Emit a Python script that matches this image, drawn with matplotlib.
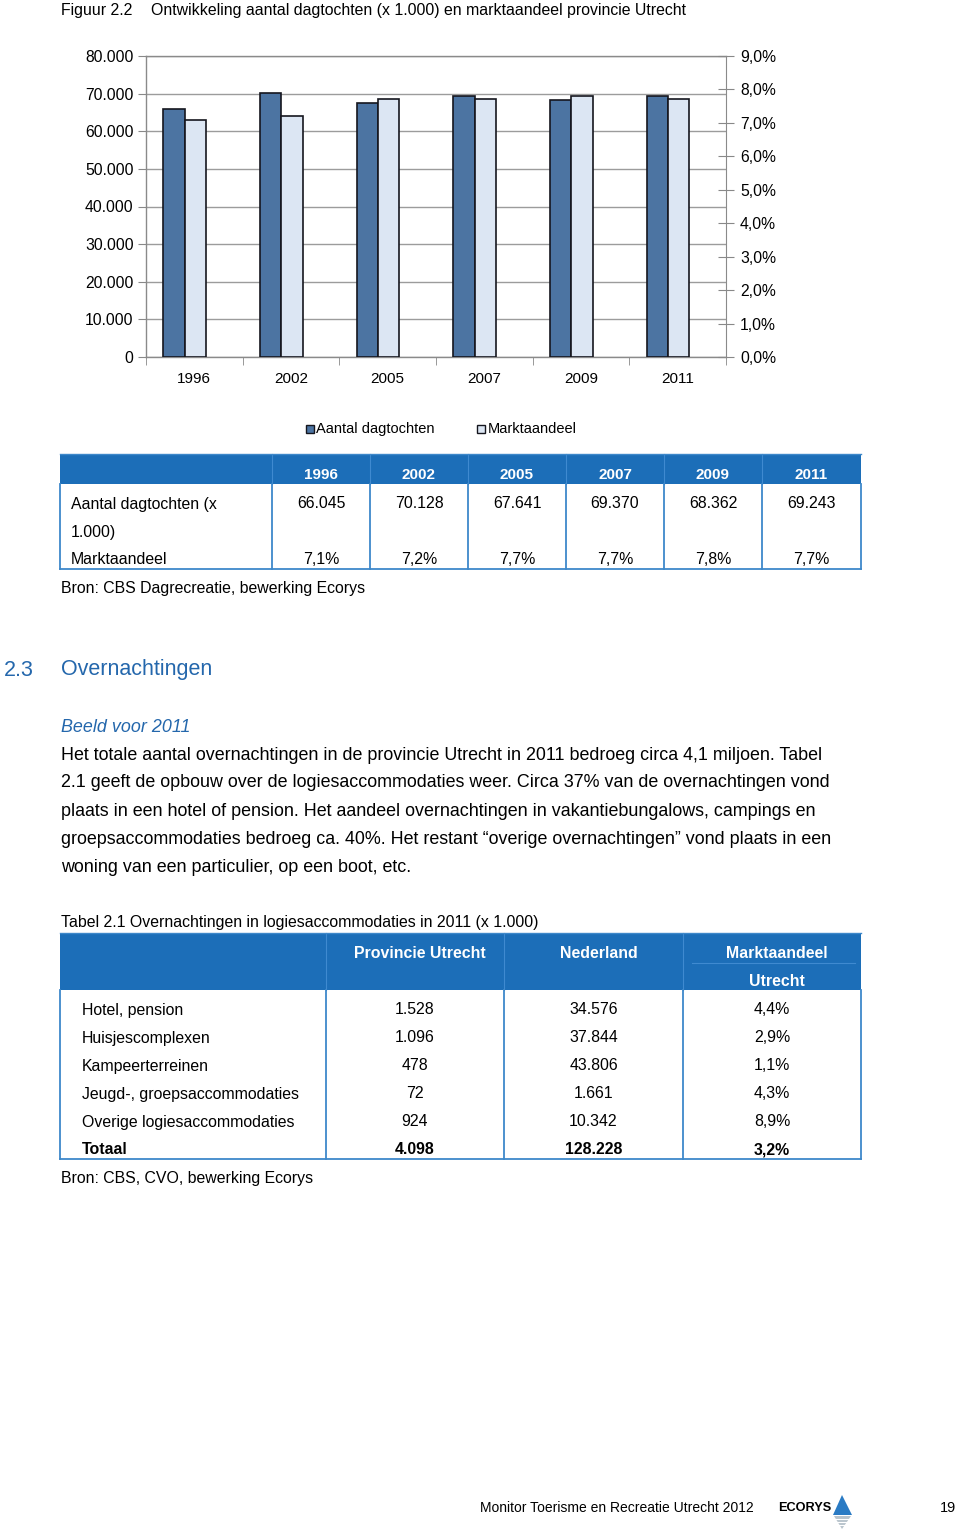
import numpy as np
import matplotlib
matplotlib.use("Agg")
import matplotlib.pyplot as plt
from matplotlib.patches import Rectangle, Polygon
from matplotlib.lines import Line2D
from matplotlib.ticker import FuncFormatter

plt.rcParams['font.family'] = ['Liberation Sans', 'DejaVu Sans']

# ---------------- data ----------------
years = ['1996', '2002', '2005', '2007', '2009', '2011']
dagtochten = [66045, 70128, 67641, 69370, 68362, 69243]      # x 1.000
marktaandeel = [7.1, 7.2, 7.7, 7.7, 7.8, 7.7]                # %

acc_types = ['Hotel, pension', 'Huisjescomplexen', 'Kampeerterreinen',
             'Jeugd-, groepsaccommodaties', 'Overige logiesaccommodaties']
prov_utrecht = [1528, 1096, 478, 72, 924]
nederland = [34576, 37844, 43806, 1661, 10342]
share_utrecht = [4.4, 2.9, 1.1, 4.3, 8.9]
total_label = 'Totaal'
total_values = [4098, 128228, 3.2]

paragraph = [
    "Het totale aantal overnachtingen in de provincie Utrecht in 2011 bedroeg circa 4,1 miljoen. Tabel",
    "2.1 geeft de opbouw over de logiesaccommodaties weer. Circa 37% van de overnachtingen vond",
    "plaats in een hotel of pension. Het aandeel overnachtingen in vakantiebungalows, campings en",
    "groepsaccommodaties bedroeg ca. 40%. Het restant \u201coverige overnachtingen\u201d vond plaats in een",
    "woning van een particulier, op een boot, etc.",
]

# ---------------- helpers ----------------
W, H = 960, 1530
fig = plt.figure(figsize=(W / 100, H / 100), dpi=100)
fig.patch.set_facecolor('white')


def fx(px):
    return px / W


def fy(py):
    return 1 - py / H


def txt(x, y, s, size=11.4, ha='left', color='black', weight='normal', style='normal'):
    fig.text(fx(x), fy(y), s, ha=ha, va='center', fontsize=size, color=color,
             fontweight=weight, fontstyle=style)


def rect(x0, y0, x1, y1, fc, ec='none', lw=0):
    fig.add_artist(Rectangle((fx(x0), fy(y1)), (x1 - x0) / W, (y1 - y0) / H,
                             transform=fig.transFigure, facecolor=fc,
                             edgecolor=ec, linewidth=lw))


def line(x0, y0, x1, y1, color, lw=1.2):
    fig.add_artist(Line2D([fx(x0), fx(x1)], [fy(y0), fy(y1)],
                          transform=fig.transFigure, color=color, linewidth=lw))


def nl_int(v):
    return f"{int(v):,}".replace(',', '.')


def nl_pct(v):
    return f"{v:.1f}%".replace('.', ',')


DARK = '#4C74A2'
LIGHT = '#DCE6F3'
EDGE = '#15161e'
BLUE_HDR = '#1C6EB8'
BLUE_LINE = '#3E88CA'
HEAD_BLUE = '#2467AC'
GRID = '#9c9c9c'

# ---------------- title ----------------
txt(61, 10, 'Figuur 2.2', size=11.4)
txt(151, 10, 'Ontwikkeling aantal dagtochten (x 1.000) en marktaandeel provincie Utrecht', size=11.4)

# ---------------- chart ----------------
ax = fig.add_axes([fx(146), fy(357), 580 / W, 301 / H])
x = np.arange(len(years))
ax.bar(x - 0.21, dagtochten, width=0.22, color=DARK, edgecolor=EDGE, linewidth=1.2, zorder=3)
ax.set_xlim(-0.5, len(years) - 0.5)
ax.set_ylim(0, 80000)
ax.set_yticks(np.arange(0, 80001, 10000))
ax.yaxis.set_major_formatter(FuncFormatter(lambda v, p: nl_int(v)))
ax.yaxis.grid(True, color=GRID, linewidth=1.0)
ax.set_axisbelow(True)
ax.set_xticks(x)
ax.set_xticklabels(years)
ax.set_xticks(np.arange(-0.5, len(years), 1.0), minor=True)
ax.tick_params(axis='x', which='major', length=0, pad=11, labelsize=11)
ax.tick_params(axis='x', which='minor', length=6, direction='out', color='#888888')
ax.tick_params(axis='y', direction='out', length=6, color='#888888', pad=3, labelsize=11.3)
for s in ax.spines.values():
    s.set_color('#8a8a8a')
    s.set_linewidth(1.0)
ax.spines['right'].set_visible(False)

ax2 = ax.twinx()
ax2.bar(x + 0.01, np.array(marktaandeel) / 100, width=0.22, color=LIGHT, edgecolor=EDGE,
        linewidth=1.2, zorder=3)
ax2.set_ylim(0, 0.09)
ax2.set_yticks(np.arange(0, 0.0901, 0.01))
ax2.yaxis.set_major_formatter(FuncFormatter(lambda v, p: nl_pct(v * 100)))
ax2.tick_params(axis='y', direction='inout', length=12, color='#888888', pad=4, labelsize=11.3)
for s in ax2.spines.values():
    s.set_visible(False)
ax2.spines['right'].set_visible(True)
ax2.spines['right'].set_color('#8a8a8a')

# legend
rect(306, 425, 314, 433, DARK, EDGE, 1.0)
txt(316, 429, 'Aantal dagtochten', size=10.5)
rect(477, 425, 485, 433, LIGHT, EDGE, 1.0)
txt(488, 429, 'Marktaandeel', size=10.5)

# ---------------- table 1 ----------------
t1_cols = [60, 272, 370, 468, 566, 664, 762, 861]
t1_top, t1_hdr, t1_bot = 454, 484, 569
rect(t1_cols[0], t1_top, t1_cols[-1], t1_hdr, BLUE_HDR)
for cx in t1_cols[1:-1]:
    line(cx, t1_top, cx, t1_hdr, '#3f8ad0', 0.8)
for cx in t1_cols:
    line(cx, t1_hdr, cx, t1_bot, BLUE_LINE, 1.3)
line(t1_cols[0], t1_bot, t1_cols[-1], t1_bot, BLUE_LINE, 1.3)
line(t1_cols[0], t1_top, t1_cols[-1], t1_top, BLUE_LINE, 1.0)
for i, yr in enumerate(years):
    cxm = (t1_cols[i + 1] + t1_cols[i + 2]) / 2
    txt(cxm, 475, yr, size=11, ha='center', color='white', weight='bold')
    txt(cxm, 504, nl_int(dagtochten[i]), size=11.4, ha='center')
    txt(cxm, 560, nl_pct(marktaandeel[i]), size=11.4, ha='center')
txt(71, 504, 'Aantal dagtochten (x', size=11.4)
txt(71, 532, '1.000)', size=11.4)
txt(71, 560, 'Marktaandeel', size=11.4)
txt(61, 589, 'Bron: CBS Dagrecreatie, bewerking Ecorys', size=11.4)

# ---------------- section text ----------------
txt(4, 670, '2.3', size=15.5, color=HEAD_BLUE)
txt(61, 670, 'Overnachtingen', size=15.5, color=HEAD_BLUE)
txt(61, 728, 'Beeld voor 2011', size=12.9, color=HEAD_BLUE, style='italic')
for k, ln in enumerate(paragraph):
    txt(61, 755 + 28 * k, ln, size=12.9)

# ---------------- table 2 ----------------
txt(61, 923, 'Tabel 2.1 Overnachtingen in logiesaccommodaties in 2011 (x 1.000)', size=11.4)
t2_cols = [60, 326, 504, 683, 861]
t2_top, t2_hdr, t2_bot = 933, 990, 1159
rect(t2_cols[0], t2_top, t2_cols[-1], t2_hdr, BLUE_HDR)
for cx in t2_cols[1:-1]:
    line(cx, t2_top, cx, t2_hdr, '#3f8ad0', 0.8)
line(692, 963, 855, 963, '#3f8ad0', 0.8)
for cx in t2_cols:
    line(cx, t2_hdr, cx, t2_bot, BLUE_LINE, 1.3)
line(t2_cols[0], t2_bot, t2_cols[-1], t2_bot, BLUE_LINE, 1.3)
line(t2_cols[0], t2_top, t2_cols[-1], t2_top, BLUE_LINE, 1.0)
centers = [(t2_cols[i] + t2_cols[i + 1]) / 2 for i in range(1, 4)]
txt(centers[0] + 5, 953, 'Provincie Utrecht', size=11.4, ha='center', color='white', weight='bold')
txt(centers[1] + 5, 953, 'Nederland', size=11.4, ha='center', color='white', weight='bold')
txt(centers[2] + 5, 953, 'Marktaandeel', size=11.4, ha='center', color='white', weight='bold')
txt(centers[2] + 5, 981, 'Utrecht', size=11.4, ha='center', color='white', weight='bold')
for k, name in enumerate(acc_types):
    yy = 1010 + 28 * k
    txt(82, yy, name, size=11.4)
    txt(centers[0], yy, nl_int(prov_utrecht[k]), size=11.4, ha='center')
    txt(centers[1], yy, nl_int(nederland[k]), size=11.4, ha='center')
    txt(centers[2], yy, nl_pct(share_utrecht[k]), size=11.4, ha='center')
yy = 1010 + 28 * len(acc_types)
txt(82, yy, total_label, size=11.4, weight='bold')
txt(centers[0], yy, nl_int(total_values[0]), size=11.4, ha='center', weight='bold')
txt(centers[1], yy, nl_int(total_values[1]), size=11.4, ha='center', weight='bold')
txt(centers[2], yy, nl_pct(total_values[2]), size=11.4, ha='center', weight='bold')
txt(61, 1179, 'Bron: CBS, CVO, bewerking Ecorys', size=11.4)

# ---------------- footer ----------------
txt(480, 1508, 'Monitor Toerisme en Recreatie Utrecht 2012', size=10.0)
txt(778, 1508, 'ECORYS', size=9.2, weight='bold')
fig.add_artist(Polygon([(fx(842), fy(1495)), (fx(833), fy(1515)), (fx(852), fy(1515))],
                       closed=True, transform=fig.transFigure, facecolor='#2a7bc4', edgecolor='none'))
fig.add_artist(Polygon([(fx(834), fy(1516)), (fx(851), fy(1516)), (fx(842), fy(1529))],
                       closed=True, transform=fig.transFigure, facecolor='#b8c3cc', edgecolor='none'))
for sy in (1519, 1522, 1525):
    line(833, sy, 852, sy, 'white', 0.8)
txt(956, 1508, '19', size=10.5, ha='right')

fig.savefig('out.png', dpi=100, facecolor='white')
